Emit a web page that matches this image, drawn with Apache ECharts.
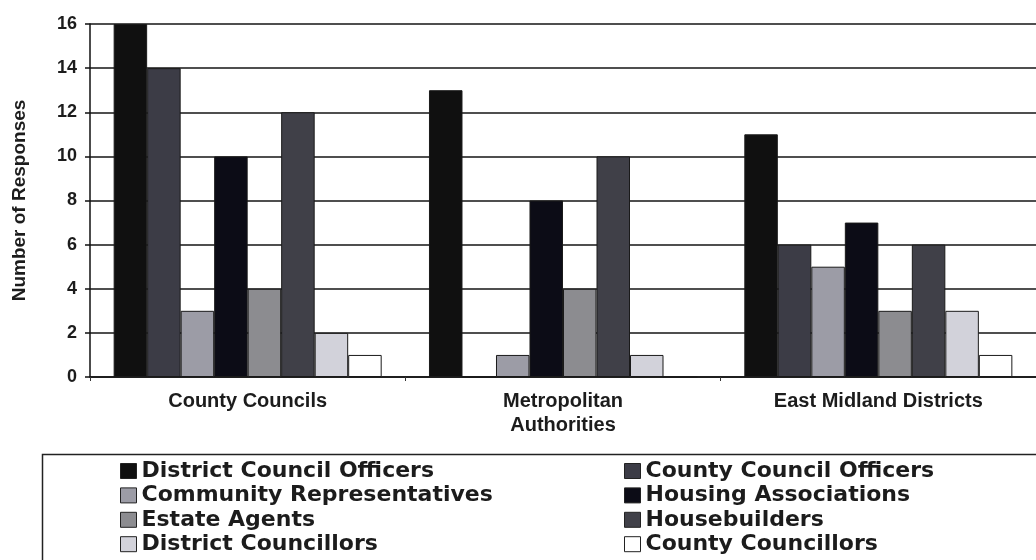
<!DOCTYPE html>
<html>
<head>
<meta charset="utf-8">
<script src="https://cdn.jsdelivr.net/npm/echarts@6/dist/echarts.min.js"></script>
<style>
  html, body { margin: 0; padding: 0; background: #fff; }
  #chart { width: 1036px; height: 560px; }
</style>
</head>
<body>
<div id="chart"></div>
<script>
// Respondent groups along the x axis
const categories = ['County Councils', 'Metropolitan\nAuthorities', 'East Midland Districts'];

// Number of responses per respondent type, one value per category
const districtCouncilOfficers  = [16, 13, 11];
const countyCouncilOfficers    = [14, 0, 6];
const communityRepresentatives = [3, 1, 5];
const housingAssociations      = [10, 8, 7];
const estateAgents             = [4, 4, 3];
const housebuilders            = [12, 10, 6];
const districtCouncillors      = [2, 1, 3];
const countyCouncillors        = [1, 0, 1];

const yTicks = { min: 0, max: 16, interval: 2 };

const seriesDefs = [
  { name: 'District Council Officers', data: districtCouncilOfficers, color: '#101010' },
  { name: 'County Council Officers', data: countyCouncilOfficers, color: '#3c3c46' },
  { name: 'Community Representatives', data: communityRepresentatives, color: '#9c9ca6' },
  { name: 'Housing Associations', data: housingAssociations, color: '#0c0c16' },
  { name: 'Estate Agents', data: estateAgents, color: '#8c8c90' },
  { name: 'Housebuilders', data: housebuilders, color: '#404048' },
  { name: 'District Councillors', data: districtCouncillors, color: '#d2d2da' },
  { name: 'County Councillors', data: countyCouncillors, color: '#ffffff' }
];

const chart = echarts.init(document.getElementById('chart'), null, { renderer: 'canvas' });

const axisFont = '"Liberation Sans", Arial, sans-serif';
const legendFont = '"DejaVu Sans", sans-serif';
const textColor = '#1c1c1c';

const legendText = {
  fontFamily: legendFont,
  fontSize: 22,
  fontWeight: 'bold',
  color: textColor,
  lineHeight: 22
};

function legendColumn(names, left) {
  return {
    data: names,
    orient: 'vertical',
    left: left,
    top: 460,
    padding: 0,
    icon: 'rect',
    itemWidth: 16,
    itemHeight: 15,
    itemGap: 2.4,
    itemStyle: { borderColor: '#222', borderWidth: 1 },
    textStyle: legendText,
    selectedMode: false
  };
}

chart.setOption({
  animation: false,
  backgroundColor: '#ffffff',
  grid: { left: 90, top: 24, right: -1, bottom: 183 },
  xAxis: {
    type: 'category',
    data: categories,
    axisLine: { lineStyle: { color: '#111', width: 1.5 } },
    axisTick: { show: true, length: 4, lineStyle: { color: '#333' } },
    axisLabel: {
      color: textColor,
      fontFamily: axisFont,
      fontSize: 20,
      fontWeight: 'bold',
      margin: 12,
      lineHeight: 24,
      interval: 0
    }
  },
  yAxis: {
    type: 'value',
    min: yTicks.min,
    max: yTicks.max,
    interval: yTicks.interval,
    name: 'Number of Responses',
    nameLocation: 'middle',
    nameRotate: 90,
    nameGap: 61,
    nameTextStyle: {
      color: textColor,
      fontFamily: axisFont,
      fontSize: 19,
      fontWeight: 'bold'
    },
    axisLine: { show: true, lineStyle: { color: '#111', width: 1.5 } },
    axisTick: { show: true, length: 5, lineStyle: { color: '#111', width: 1.5 } },
    axisLabel: {
      color: textColor,
      fontFamily: axisFont,
      fontSize: 18,
      fontWeight: 'bold',
      margin: 13
    },
    splitLine: { show: true, lineStyle: { color: '#151515', width: 1.5 } }
  },
  legend: [
    legendColumn(seriesDefs.filter((_, i) => i % 2 === 0).map(s => s.name), 120),
    legendColumn(seriesDefs.filter((_, i) => i % 2 === 1).map(s => s.name), 624)
  ],
  graphic: [
    {
      type: 'rect',
      left: 40,
      top: 452,
      shape: { width: 1010, height: 120 },
      style: { fill: 'none', stroke: '#222', lineWidth: 1.5 },
      z: -1
    }
  ],
  series: seriesDefs.map(s => ({
    type: 'bar',
    name: s.name,
    data: s.data,
    barGap: '0%',
    barCategoryGap: '15%',
    itemStyle: { color: s.color, borderColor: '#1a1a1a', borderWidth: 1 }
  }))
});
</script>
</body>
</html>
